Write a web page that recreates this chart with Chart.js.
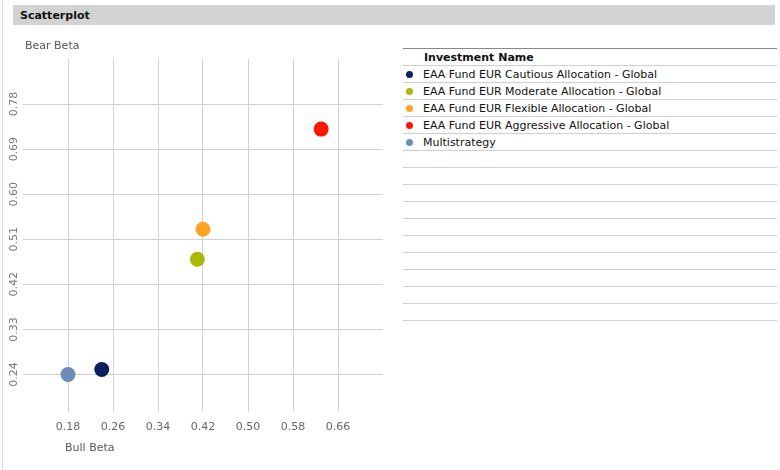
<!DOCTYPE html>
<html>
<head>
<meta charset="utf-8">
<title>Scatterplot</title>
<script src="https://cdn.jsdelivr.net/npm/chart.js@4.4.1/dist/chart.umd.min.js"></script>
<style>
  body { margin: 0; background: #fff; font-family: "DejaVu Sans", Verdana, sans-serif; }
  #page { position: relative; width: 780px; height: 470px; overflow: hidden; }
  #frameLine { position: absolute; left: 2px; top: 0; width: 1px; height: 470px; background: #dcdcdc; }
  #header {
    position: absolute; left: 13px; top: 5px; width: 755px; height: 20px;
    background: #d3d3d3; font-size: 11px; font-weight: bold; color: #111;
    line-height: 21px; padding-left: 7px;
  }
  .axisTitle { position: absolute; font-size: 11px; color: #555; line-height: 14px; }
  #yTitle { left: 25px; top: 39px; }
  #xTitle { left: 65px; top: 441px; }
  #chartBox { position: absolute; left: 0; top: 0; width: 400px; height: 470px; }
  #legend { position: absolute; left: 403px; top: 48px; width: 374px; border-top: 1px solid #888; }
  .row {
    position: relative; height: 15px; padding-top: 1px; line-height: 16px; border-bottom: 1px solid #cfcfcf;
    font-size: 11px; color: #111; padding-left: 20px; white-space: nowrap;
  }
  .row.head { font-weight: bold; padding-left: 21px; }
  .dot { position: absolute; left: 3px; top: 5px; width: 7px; height: 7px; border-radius: 50%; }
</style>
</head>
<body>
<div id="page">
  <div id="frameLine"></div>
  <div id="header">Scatterplot</div>
  <div id="chartBox"><canvas id="scatter" width="400" height="470"></canvas></div>
  <div id="yTitle" class="axisTitle">Bear Beta</div>
  <div id="xTitle" class="axisTitle">Bull Beta</div>
  <div id="legend"></div>
</div>
<script>
// data
const seriesNames = [
  'EAA Fund EUR Cautious Allocation - Global',
  'EAA Fund EUR Moderate Allocation - Global',
  'EAA Fund EUR Flexible Allocation - Global',
  'EAA Fund EUR Aggressive Allocation - Global',
  'Multistrategy'
];
const seriesColors = ['#0c1f5e', '#a8b908', '#ffa420', '#ff1500', '#6e8cb5'];
const bullBeta = [0.24, 0.41, 0.42, 0.63, 0.18];
const bearBeta = [0.25, 0.47, 0.53, 0.73, 0.24];

const xTicks = [0.18, 0.26, 0.34, 0.42, 0.50, 0.58, 0.66];
const yTicks = [0.24, 0.33, 0.42, 0.51, 0.60, 0.69, 0.78];
const xMin = 0.10, xMax = 0.74;
const yMin = 0.165, yMax = 0.87;
const emptyRows = 10;

const FONT = '"DejaVu Sans", Verdana, sans-serif';

// rotated labels for the vertical axis
const yLabelPlugin = {
  id: 'yLabels',
  afterDraw(chart) {
    const ctx = chart.ctx;
    const y = chart.scales.y;
    ctx.save();
    ctx.font = '11px ' + FONT;
    ctx.fillStyle = '#777';
    ctx.textAlign = 'center';
    ctx.textBaseline = 'middle';
    yTicks.forEach(v => {
      const py = y.getPixelForValue(v);
      ctx.save();
      ctx.translate(14, py);
      ctx.rotate(-Math.PI / 2);
      ctx.fillText(v.toFixed(2), 0, 0);
      ctx.restore();
    });
    ctx.restore();
  }
};

const datasets = seriesNames.map((name, i) => ({
  label: name,
  data: [{ x: bullBeta[i], y: bearBeta[i] }],
  backgroundColor: seriesColors[i],
  borderColor: seriesColors[i],
  borderWidth: 0,
  pointRadius: 7.5,
  pointHoverRadius: 7.5
}));

new Chart(document.getElementById('scatter').getContext('2d'), {
  type: 'scatter',
  data: { datasets: datasets },
  options: {
    responsive: false,
    animation: false,
    layout: { padding: { left: 0, top: 59, right: 17, bottom: 0 } },
    plugins: { legend: { display: false }, tooltip: { enabled: false } },
    scales: {
      x: {
        type: 'linear',
        min: xMin,
        max: xMax,
        afterBuildTicks: s => { s.ticks = xTicks.map(v => ({ value: v })); },
        afterFit: s => { s.height = 58; },
        grid: { color: '#d2d2d2', drawTicks: false },
        border: { display: false },
        ticks: {
          padding: 9,
          color: '#666',
          font: { family: FONT, size: 11 },
          maxRotation: 0,
          callback: v => v.toFixed(2)
        }
      },
      y: {
        type: 'linear',
        min: yMin,
        max: yMax,
        afterBuildTicks: s => { s.ticks = yTicks.map(v => ({ value: v })); },
        afterFit: s => { s.width = 23; },
        grid: { color: '#d2d2d2', drawTicks: false },
        border: { display: false },
        ticks: { display: false }
      }
    }
  },
  plugins: [yLabelPlugin]
});

// legend table on the right
const legend = document.getElementById('legend');
const head = document.createElement('div');
head.className = 'row head';
head.textContent = 'Investment Name';
legend.appendChild(head);
seriesNames.forEach((name, i) => {
  const row = document.createElement('div');
  row.className = 'row';
  const dot = document.createElement('span');
  dot.className = 'dot';
  dot.style.background = seriesColors[i];
  row.appendChild(dot);
  row.appendChild(document.createTextNode(name));
  legend.appendChild(row);
});
for (let i = 0; i < emptyRows; i++) {
  const row = document.createElement('div');
  row.className = 'row';
  legend.appendChild(row);
}
</script>
</body>
</html>
